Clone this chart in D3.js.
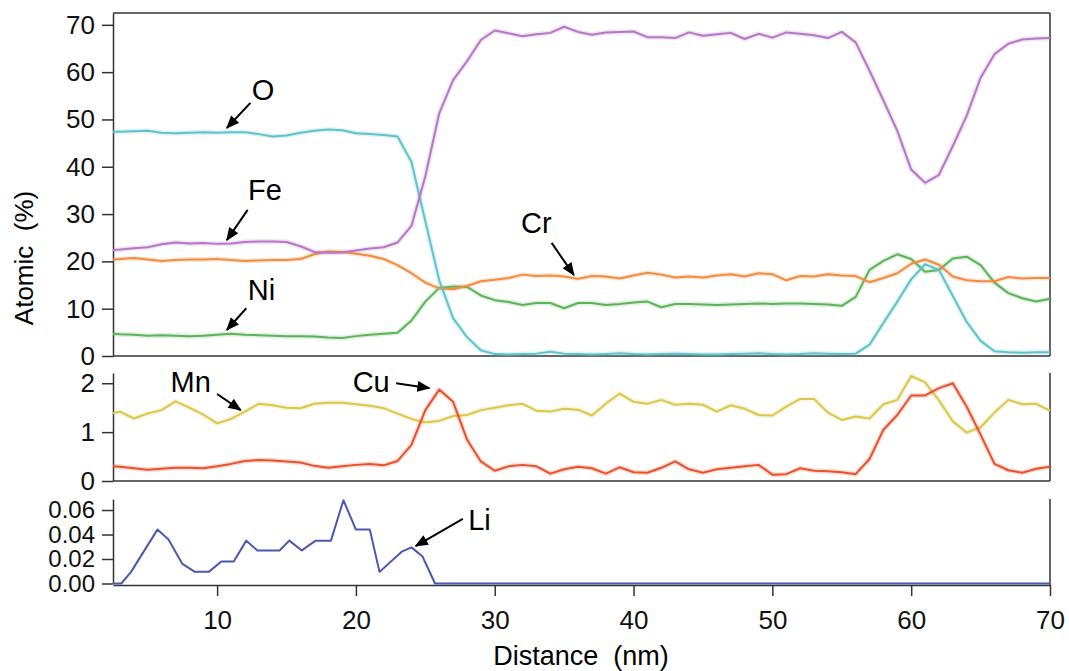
<!DOCTYPE html>
<html>
<head>
<meta charset="utf-8">
<script src="https://cdn.jsdelivr.net/npm/d3@7/dist/d3.min.js"></script>
<style>
    body { margin: 0; background: #fff; }
    svg { font-family: "Liberation Sans", Arial, Helvetica, sans-serif; }
    .axis path, .axis line { stroke: #333; stroke-width: 1.5px; }
    .axis text { fill: #111; font-size: 26px; }
    .axis.li text { font-size: 24px; }
</style>
</head>
<body>
<div id="graf"></div>
<script>
// Distancia (nm) común a los perfiles de los paneles superior y medio
const distancia = [2.5, 3, 4, 5, 6, 7, 8, 9, 10, 11, 12, 13, 14, 15, 16, 17, 18, 19, 20, 21, 22, 23,
    24, 25, 26, 27, 28, 29, 30, 31, 32, 33, 34, 35, 36, 37, 38, 39, 40, 41, 42, 43, 44, 45, 46, 47,
    48, 49, 50, 51, 52, 53, 54, 55, 56, 57, 58, 59, 60, 61, 62, 63, 64, 65, 66, 67, 68, 69, 70]

// Panel superior (% atómico)
const oxigeno = [47.4, 47.4, 47.5, 47.6, 47.2, 47.1, 47.2, 47.3, 47.2, 47.3, 47.3, 46.9, 46.4, 46.6, 47.2, 47.6, 47.9, 47.7, 47.1, 46.9, 46.7, 46.4,
    41.0, 28.5, 16.0, 8.0, 4.0, 1.2, 0.4,
    0.3, 0.4, 0.5, 0.9, 0.5, 0.4, 0.3, 0.4, 0.6, 0.4,
    0.3, 0.4, 0.5, 0.4, 0.3, 0.3, 0.4, 0.5, 0.6, 0.4,
    0.3, 0.4, 0.6, 0.5, 0.4, 0.5, 2.4, 7.0, 11.5, 16.2,
    19.4, 18.2, 12.7, 7.2, 3.2, 1.0, 0.8, 0.7, 0.8, 0.8]
const hierro = [22.4, 22.5, 22.8, 23.0, 23.6, 24.0, 23.8, 23.9, 23.7, 23.8, 24.1, 24.2, 24.2, 24.1, 23.2, 22.0, 21.8, 21.9, 22.3, 22.7, 23.0, 24.0,
    27.5, 38.0, 51.3, 58.3, 62.3, 66.8, 68.8,
    68.2, 67.6, 68.0, 68.3, 69.6, 68.5, 67.9, 68.4, 68.5, 68.6,
    67.4, 67.4, 67.2, 68.4, 67.7, 68.0, 68.3, 67.0, 68.1, 67.3,
    68.4, 68.1, 67.8, 67.2, 68.5, 66.3, 60.3, 54.0, 47.6, 39.4,
    36.6, 38.3, 44.4, 50.8, 58.8, 63.8, 66.0, 66.9, 67.1, 67.2]
const cromo = [20.4, 20.5, 20.7, 20.4, 20.1, 20.3, 20.4, 20.4, 20.5, 20.3, 20.1, 20.2, 20.3, 20.3, 20.5, 21.5, 22.1, 22.0, 21.6, 21.2, 20.5, 19.2,
    17.5, 15.5, 14.3, 14.1, 14.8, 15.8, 16.1,
    16.5, 17.2, 16.9, 17.0, 16.8, 16.3, 16.9, 16.8, 16.4, 17.0,
    17.6, 17.2, 16.6, 16.8, 16.6, 17.0, 17.3, 16.8, 17.5, 17.3,
    16.0, 16.9, 16.8, 17.3, 17.0, 16.9, 15.6, 16.5, 17.5, 19.5,
    20.4, 19.3, 16.8, 16.0, 15.8, 15.8, 16.7, 16.4, 16.5, 16.5]
const niquel = [4.7, 4.6, 4.5, 4.3, 4.4, 4.3, 4.2, 4.3, 4.5, 4.7, 4.5, 4.4, 4.3, 4.2, 4.2, 4.1, 3.9, 3.8, 4.2, 4.5, 4.7, 4.9,
    7.5, 11.5, 14.4, 14.7, 14.6, 12.8, 11.8,
    11.4, 10.8, 11.2, 11.2, 10.1, 11.2, 11.2, 10.8, 11.0, 11.3,
    11.5, 10.3, 11.0, 11.0, 10.9, 10.8, 10.9, 11.0, 11.1, 11.0,
    11.1, 11.1, 11.0, 10.9, 10.6, 12.5, 18.2, 20.1, 21.5, 20.5,
    17.8, 18.2, 20.6, 21.0, 19.2, 15.5, 13.3, 12.2, 11.5, 12.1]

// Panel medio
const manganeso = [1.39, 1.42, 1.28, 1.38, 1.45, 1.63, 1.50, 1.36, 1.18, 1.27, 1.42, 1.58, 1.55, 1.50, 1.49, 1.58, 1.60, 1.60, 1.57, 1.54, 1.49, 1.38,
    1.27, 1.20, 1.23, 1.33, 1.35, 1.45, 1.50,
    1.55, 1.58, 1.44, 1.42, 1.48, 1.46, 1.34, 1.58, 1.79, 1.62,
    1.58, 1.66, 1.56, 1.58, 1.56, 1.42, 1.55, 1.48, 1.35, 1.34,
    1.52, 1.68, 1.68, 1.40, 1.25, 1.32, 1.28, 1.57, 1.66, 2.15,
    2.02, 1.65, 1.22, 0.99, 1.10, 1.40, 1.66, 1.57, 1.58, 1.44]
const cobre = [0.30, 0.29, 0.26, 0.23, 0.25, 0.27, 0.27, 0.26, 0.30, 0.35, 0.41, 0.43, 0.42, 0.40, 0.38, 0.31, 0.27, 0.30, 0.33, 0.35, 0.32, 0.41,
    0.74, 1.45, 1.87, 1.62, 0.85, 0.40, 0.21,
    0.30, 0.33, 0.30, 0.15, 0.24, 0.29, 0.26, 0.15, 0.28, 0.18,
    0.17, 0.27, 0.40, 0.24, 0.17, 0.24, 0.27, 0.30, 0.33, 0.13,
    0.14, 0.26, 0.21, 0.20, 0.18, 0.14, 0.45, 1.05, 1.35, 1.75,
    1.75, 1.90, 2.00, 1.52, 0.95, 0.35, 0.22, 0.17, 0.25, 0.29]

// Panel inferior (Li, muestreo propio)
const distanciaLi = [2.5, 3.1, 3.8, 5.7, 6.5, 7.5, 8.4, 9.4, 10.3, 11.2, 12.1, 12.9, 14.5, 15.2, 16.1, 17.1,
    18.2, 19.1, 20.0, 21.0, 21.7, 23.3, 24.0, 24.8, 25.7, 70]
const litio = [0, 0, 0.0095, 0.044, 0.036, 0.016, 0.0095, 0.0095, 0.018, 0.018, 0.035, 0.027, 0.027, 0.035, 0.027, 0.035,
    0.035, 0.068, 0.044, 0.044, 0.0095, 0.026, 0.0295, 0.022, 0, 0]

// Ticks
const ticksX = [10, 20, 30, 40, 50, 60, 70]
const ticksTop = [0, 10, 20, 30, 40, 50, 60, 70]
const ticksMid = [0, 1, 2]
const ticksBot = [0, 0.02, 0.04, 0.06]

// Etiquetas con flecha: [texto, panel, xTexto, yTexto, x1, y1, x2, y2] en unidades de datos
const etiquetas = [
    ['O', 'top', 13.3, 54.1, 12.4, 53.5, 10.7, 48.2],
    ['Fe', 'top', 13.45, 33.0, 12.2, 30.9, 10.7, 24.5],
    ['Ni', 'top', 13.2, 11.8, 12.1, 10.1, 10.7, 5.5],
    ['Cr', 'top', 33.0, 26.0, 34.1, 23.9, 35.7, 17.1],
    ['Mn', 'mid', 8.1, 1.82, 10.0, 1.78, 11.7, 1.45],
    ['Cu', 'mid', 21.1, 1.82, 22.9, 2.0, 25.3, 1.90],
    ['Li', 'bot', 28.9, 0.0437, 27.7, 0.0527, 24.3, 0.0306]
]

function load() {
    const ancho = 1069
    const alto = 671
    const izq = 113
    const der = 1050

    const svg = d3.select('#graf')
        .append('svg')
        .attr('width', ancho)
        .attr('height', alto)

    svg.append('rect').attr('width', ancho).attr('height', alto).attr('fill', '#fff')

    const defs = svg.append('defs')
    defs.append('marker')
        .attr('id', 'flecha')
        .attr('viewBox', '0 0 12 10')
        .attr('refX', 11)
        .attr('refY', 5)
        .attr('markerUnits', 'userSpaceOnUse')
        .attr('markerWidth', 14)
        .attr('markerHeight', 11)
        .attr('orient', 'auto')
        .append('path')
        .attr('d', 'M0,0 L12,5 L0,10 Z')
        .attr('fill', '#000')

    // Escalas
    const xScale = d3.scaleLinear().domain([2.5, 70]).range([izq, der])
    const yTop = d3.scaleLinear().domain([0, 72.5]).range([356, 13])
    const yMid = d3.scaleLinear().domain([0, 2.21]).range([481, 373])
    const yBot = d3.scaleLinear().domain([0, 0.069]).range([583.5, 499])
    const escalas = { top: yTop, mid: yMid, bot: yBot }

    const marco = svg.append('g').attr('stroke', '#333').attr('stroke-width', 1.5)

    // Marco del panel superior
    marco.append('line').attr('x1', izq).attr('x2', der).attr('y1', yTop.range()[1]).attr('y2', yTop.range()[1])
    marco.append('line').attr('x1', der).attr('x2', der).attr('y1', yTop.range()[1]).attr('y2', yTop.range()[0])
    marco.append('line').attr('x1', izq).attr('x2', der).attr('y1', yTop.range()[0]).attr('y2', yTop.range()[0])
    // Panel medio
    marco.append('line').attr('x1', der).attr('x2', der).attr('y1', yMid.range()[1]).attr('y2', yMid.range()[0])
    marco.append('line').attr('x1', izq).attr('x2', der).attr('y1', yMid.range()[0]).attr('y2', yMid.range()[0])
    // Panel inferior
    marco.append('line').attr('x1', der).attr('x2', der).attr('y1', yBot.range()[1]).attr('y2', 585)

    // Ejes Y
    svg.append('g').attr('class', 'axis')
        .attr('transform', `translate(${izq},0)`)
        .call(d3.axisLeft(yTop).tickValues(ticksTop).tickSize(11).tickPadding(7).tickSizeOuter(0))
    svg.append('g').attr('class', 'axis')
        .attr('transform', `translate(${izq},0)`)
        .call(d3.axisLeft(yMid).tickValues(ticksMid).tickSize(11).tickPadding(7).tickSizeOuter(0)
            .tickFormat(d3.format('d')))
    svg.append('g').attr('class', 'axis li')
        .attr('transform', `translate(${izq},0)`)
        .call(d3.axisLeft(yBot).tickValues(ticksBot).tickSize(11).tickPadding(7).tickSizeOuter(0)
            .tickFormat(d3.format('.2f')))

    // Eje X
    svg.append('g').attr('class', 'axis')
        .attr('transform', 'translate(0,585)')
        .call(d3.axisBottom(xScale).tickValues(ticksX).tickSize(11).tickPadding(15).tickSizeOuter(0))

    // Títulos de ejes
    svg.append('text')
        .attr('transform', 'translate(33,258) rotate(-90)')
        .attr('text-anchor', 'middle')
        .style('font-size', '26px')
        .style('white-space', 'pre')
        .text('Atomic  (%)')

    svg.append('text')
        .attr('x', 581)
        .attr('y', 665)
        .attr('text-anchor', 'middle')
        .style('font-size', '27px')
        .style('white-space', 'pre')
        .text('Distance  (nm)')

    // Curvas
    const series = [
        { valores: niquel, y: yTop, color: '#5cb35a' },
        { valores: cromo, y: yTop, color: '#f28b3c' },
        { valores: oxigeno, y: yTop, color: '#5ec3cc' },
        { valores: hierro, y: yTop, color: '#b576c6' },
        { valores: manganeso, y: yMid, color: '#d9c84c' },
        { valores: cobre, y: yMid, color: '#e8522b' }
    ]

    series.forEach(s => {
        const linea = d3.line()
            .x((d, i) => xScale(distancia[i]))
            .y(d => s.y(d))
        svg.append('path')
            .datum(s.valores)
            .attr('d', linea)
            .attr('fill', 'none')
            .attr('stroke', s.color)
            .attr('stroke-opacity', 0.2)
            .attr('stroke-width', 5)
            .attr('stroke-linejoin', 'round')
        svg.append('path')
            .datum(s.valores)
            .attr('d', linea)
            .attr('fill', 'none')
            .attr('stroke', s.color)
            .attr('stroke-width', 2)
            .attr('stroke-linejoin', 'round')
    })

    const lineaLi = d3.line()
        .x((d, i) => xScale(distanciaLi[i]))
        .y(d => yBot(d))
    svg.append('path')
        .datum(litio)
        .attr('d', lineaLi)
        .attr('fill', 'none')
        .attr('stroke', '#4a58b0')
        .attr('stroke-width', 2)
        .attr('stroke-linejoin', 'round')

    // Etiquetas y flechas
    etiquetas.forEach(e => {
        const y = escalas[e[1]]
        svg.append('text')
            .attr('x', xScale(e[2]))
            .attr('y', y(e[3]))
            .attr('text-anchor', 'middle')
            .style('font-size', '29px')
            .text(e[0])
        svg.append('line')
            .attr('x1', xScale(e[4]))
            .attr('y1', y(e[5]))
            .attr('x2', xScale(e[6]))
            .attr('y2', y(e[7]))
            .attr('stroke', '#000')
            .attr('stroke-width', 2)
            .attr('marker-end', 'url(#flecha)')
    })
}

load()
</script>
</body>
</html>
